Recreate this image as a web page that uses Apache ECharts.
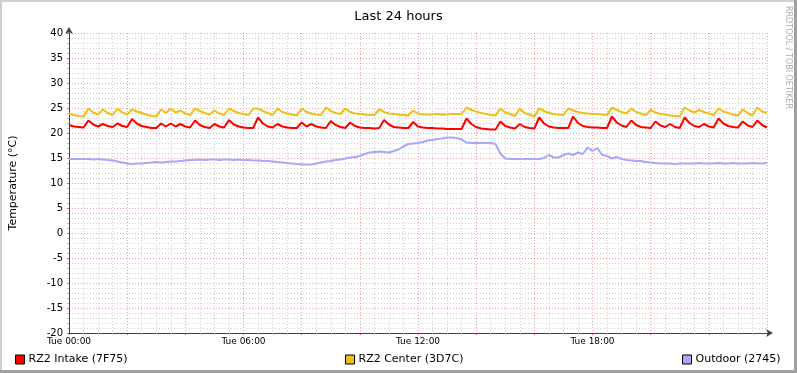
<!DOCTYPE html>
<html><head><meta charset="utf-8">
<script src="https://cdn.jsdelivr.net/npm/echarts@6/dist/echarts.min.js"></script>
<style>html,body{margin:0;padding:0;background:#fff}#c{width:797px;height:373px}</style>
</head><body><div id="c"></div>
<script>
const stepMinutes = 10;
const titleText = 'Last 24 hours';
const yAxisTitle = 'Temperature (°C)';
const xTickLabels = {0:'Tue 00:00', 360:'Tue 06:00', 720:'Tue 12:00', 1080:'Tue 18:00'};
const seriesNames = ['RZ2 Intake (7F75)', 'RZ2 Center (3D7C)', 'Outdoor (2745)'];
const seriesColors = ['#FF0000', '#EAC117', '#A8A8F8'];

const intake = [
21.6,21.3,21.2,21.1,22.5,21.7,21.3,21.8,21.4,21.2,
21.9,21.4,21.2,22.8,21.9,21.4,21.2,21.0,21.0,21.9,
21.3,21.9,21.3,21.8,21.3,21.1,22.5,21.6,21.2,21.0,
21.8,21.3,21.1,22.6,21.7,21.3,21.1,21.0,21.0,23.1,
21.9,21.3,21.1,21.8,21.3,21.1,21.0,21.0,22.1,21.3,
21.8,21.3,21.1,21.0,22.4,21.6,21.2,21.0,22.1,21.4,
21.1,21.0,21.0,20.9,21.0,22.6,21.7,21.2,21.1,21.0,
21.0,22.2,21.3,21.1,21.0,21.0,20.9,20.9,20.8,20.8,
20.8,20.8,22.9,21.8,21.2,20.9,20.8,20.7,20.7,22.3,
21.4,21.1,20.9,21.8,21.2,21.0,20.9,23.1,21.9,21.3,
21.1,21.0,21.0,21.0,23.3,22.0,21.4,21.2,21.1,21.1,
21.0,21.0,23.3,22.1,21.5,21.2,22.5,21.6,21.2,21.1,
21.0,22.3,21.5,21.2,21.8,21.2,21.0,23.1,22.0,21.4,
21.2,21.8,21.3,21.1,22.9,21.9,21.4,21.2,21.1,22.3,
21.5,21.2,22.5,21.6,21.1
];
const center = [
23.9,23.6,23.4,23.3,24.9,24.1,23.7,24.7,24.0,23.6,
24.9,24.1,23.7,24.7,24.3,24.0,23.7,23.4,23.3,24.7,
24.0,24.9,24.1,24.5,23.9,23.6,24.9,24.4,24.0,23.7,
24.5,23.9,23.6,24.9,24.4,24.0,23.8,23.6,24.9,24.9,
24.4,24.0,23.6,24.9,24.2,23.9,23.7,23.5,24.9,24.2,
23.9,23.7,23.6,25.1,24.4,24.0,23.8,24.9,24.2,23.9,
23.8,23.7,23.6,23.6,24.7,24.2,23.9,23.8,23.7,23.6,
23.5,24.5,23.9,23.7,23.7,23.7,23.8,23.7,23.7,23.8,
23.8,23.8,25.1,24.6,24.3,24.0,23.8,23.6,23.5,24.9,
24.1,23.8,23.4,24.9,24.0,23.7,23.3,24.9,24.4,24.0,
23.8,23.7,23.6,24.9,24.5,24.2,24.0,23.9,23.8,23.8,
23.7,23.6,25.1,24.6,24.2,23.9,24.9,24.2,23.9,23.6,
24.6,24.1,23.8,23.7,23.5,23.4,23.3,25.1,24.5,24.1,
24.6,24.2,23.9,23.6,24.9,24.3,24.0,23.7,23.5,24.7,
24.0,23.5,25.1,24.3,24.0
];
const outdoor = [
14.8,14.8,14.8,14.8,14.8,14.7,14.8,14.7,14.6,14.5,
14.3,14.1,13.9,13.8,13.9,13.9,14.0,14.1,14.2,14.1,
14.2,14.3,14.3,14.4,14.5,14.6,14.6,14.7,14.6,14.7,
14.7,14.6,14.7,14.7,14.6,14.7,14.6,14.6,14.5,14.5,
14.4,14.4,14.3,14.2,14.1,14.0,13.9,13.8,13.7,13.7,
13.7,13.9,14.1,14.3,14.4,14.6,14.7,14.9,15.1,15.2,
15.4,15.8,16.1,16.2,16.3,16.2,16.1,16.4,16.7,17.3,
17.8,17.9,18.0,18.2,18.5,18.6,18.8,18.9,19.1,19.1,
19.0,18.7,18.1,18.0,18.0,18.0,18.0,18.0,17.8,15.9,
14.9,14.8,14.8,14.8,14.8,14.8,14.8,14.8,15.0,15.6,
15.1,15.1,15.6,15.9,15.6,16.1,15.8,17.1,16.4,17.0,
15.6,15.4,14.9,15.2,14.8,14.6,14.5,14.4,14.4,14.2,
14.1,14.0,13.9,13.9,13.9,13.8,13.9,13.9,13.9,13.9,
14.0,13.9,13.9,13.9,14.0,13.9,13.9,14.0,13.9,13.9,
13.9,14.0,13.9,13.9,14.0
];
const seriesValues = [intake, center, outdoor];

const font = 'DejaVu Sans';
const toPairs = arr => arr.map((v, i) => [i * stepMinutes, v]);

const chart = echarts.init(document.getElementById('c'), null, {renderer: 'canvas'});
const legendLefts = [15, 345, 682];
chart.setOption({
  animation: false,
  backgroundColor: '#ffffff',
  title: {
    text: titleText, left: 'center', top: 5,
    textStyle: {fontFamily: font, fontSize: 13, fontWeight: 'normal', color: '#000'}
  },
  grid: {left: 67, right: 30, top: 33, bottom: 40},
  legend: seriesNames.map((n, i) => ({
    data: [n], left: legendLefts[i], top: 354, icon: 'rect', itemWidth: 9, itemHeight: 9,
    itemStyle: {borderColor: '#000', borderWidth: 1},
    textStyle: {fontFamily: font, fontSize: 11, color: '#000', padding: [0, 0, 0, -1]},
    selectedMode: false, padding: 0
  })),
  xAxis: {
    type: 'value', min: 0, max: 1440, interval: 120,
    axisLine: {onZero: false, lineStyle: {color: '#4d3b3b', width: 1}, symbol: ['none', 'arrow'], symbolSize: [6, 7], symbolOffset: [0, 6]},
    axisTick: {show: true, length: 2, lineStyle: {color: 'rgba(220,0,0,0.6)'}},
    minorTick: {show: true, splitNumber: 4, length: 2, lineStyle: {color: '#bbb'}},
    axisLabel: {
      fontFamily: font, fontSize: 9, color: '#000', margin: 4, showMaxLabel: false,
      formatter: v => xTickLabels[v] || ''
    },
    splitLine: {show: true, lineStyle: {color: 'rgba(230,80,80,0.55)', type: [1, 2], width: 1}},
    minorSplitLine: {show: true, lineStyle: {color: '#cfcfcf', type: [1, 2], width: 1}}
  },
  yAxis: {
    type: 'value', min: -20, max: 40, interval: 5,
    name: yAxisTitle, nameLocation: 'middle', nameGap: 50, nameRotate: 90,
    nameTextStyle: {fontFamily: font, fontSize: 11, color: '#000'},
    axisLine: {show: true, lineStyle: {color: '#4d3b3b', width: 1}, symbol: ['none', 'arrow'], symbolSize: [6, 7], symbolOffset: [0, 6]},
    axisTick: {show: true, length: 2, lineStyle: {color: 'rgba(220,0,0,0.6)'}},
    minorTick: {show: true, splitNumber: 5, length: 2, lineStyle: {color: '#bbb'}},
    axisLabel: {fontFamily: font, fontSize: 10, color: '#000', margin: 6},
    splitLine: {show: true, lineStyle: {color: 'rgba(230,80,80,0.55)', type: [1, 2], width: 1}},
    minorSplitLine: {show: true, lineStyle: {color: '#cfcfcf', type: [1, 2], width: 1}}
  },
  series: seriesNames.map((n, i) => ({
    name: n, type: 'line', data: toPairs(seriesValues[i]), showSymbol: false,
    color: seriesColors[i], lineStyle: {width: 2, color: seriesColors[i]}, z: 3 + i
  })),
  graphic: [
    {type: 'rect', left: 0, top: 0, shape: {width: 797, height: 2}, style: {fill: '#d0d0d0'}, silent: true},
    {type: 'rect', left: 0, top: 0, shape: {width: 2, height: 373}, style: {fill: '#d0d0d0'}, silent: true},
    {type: 'rect', right: 0, top: 0, shape: {width: 3, height: 373}, style: {fill: '#a0a0a0'}, silent: true},
    {type: 'rect', left: 0, bottom: 0, shape: {width: 797, height: 3}, style: {fill: '#a0a0a0'}, silent: true},
    {type: 'text', left: 784, top: 6, rotation: -Math.PI / 2, silent: true,
     style: {text: 'RRDTOOL / TOBI OETIKER', fontFamily: font, fontSize: 8, fill: '#aaaaaa'}}
  ]
});
</script>
</body></html>
